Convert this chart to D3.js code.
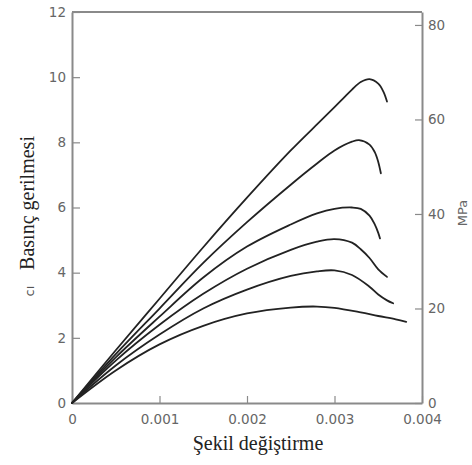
<!DOCTYPE html>
<html><head><meta charset="utf-8">
<script src="https://cdn.jsdelivr.net/npm/d3@7/dist/d3.min.js"></script>
<style>
html,body{margin:0;padding:0;background:#fff;}
svg{display:block;}
</style></head>
<body>
<svg id="c" width="472" height="465"></svg>
<script>
// ---- data ----
const xTicks = [0, 0.001, 0.002, 0.003, 0.004];
const xTickLabels = ["0", "0.001", "0.002", "0.003", "0.004"];
const yTicks = [0, 2, 4, 6, 8, 10, 12];
const yRightTicks = [0, 20, 40, 60, 80];
const ksiToMPa = 6.895;

const strain1 = [0, 0.0005, 0.001, 0.0015, 0.002, 0.0025, 0.0028, 0.003, 0.0031, 0.0032, 0.0033, 0.0034, 0.0035, 0.00356, 0.0036];
const stress1 = [0, 1.62, 3.2, 4.78, 6.3, 7.75, 8.55, 9.08, 9.35, 9.62, 9.85, 9.94, 9.8, 9.55, 9.25];
const strain2 = [0, 0.0005, 0.001, 0.0015, 0.002, 0.0025, 0.0028, 0.003, 0.0032, 0.00328, 0.0034, 0.00346, 0.0035, 0.00353];
const stress2 = [0, 1.5, 2.9, 4.3, 5.55, 6.7, 7.35, 7.75, 8.02, 8.07, 7.93, 7.7, 7.4, 7.05];
const strain3 = [0, 0.0005, 0.001, 0.0015, 0.002, 0.0025, 0.0028, 0.003, 0.0032, 0.0033, 0.0034, 0.00346, 0.0035, 0.00352];
const stress3 = [0, 1.4, 2.65, 3.85, 4.8, 5.48, 5.82, 5.96, 6.0, 5.96, 5.75, 5.48, 5.22, 5.05];
const strain4 = [0, 0.0005, 0.001, 0.0015, 0.002, 0.0025, 0.0028, 0.003, 0.0032, 0.0033, 0.0034, 0.0035, 0.0036];
const stress4 = [0, 1.3, 2.4, 3.35, 4.12, 4.7, 4.95, 5.03, 4.92, 4.72, 4.45, 4.1, 3.87];
const strain5 = [0, 0.0005, 0.001, 0.0015, 0.002, 0.0025, 0.0028, 0.003, 0.0032, 0.0034, 0.0035, 0.0036, 0.00367];
const stress5 = [0, 1.15, 2.1, 2.9, 3.48, 3.9, 4.04, 4.07, 3.93, 3.57, 3.33, 3.15, 3.06];
const strain6 = [0, 0.0005, 0.001, 0.0015, 0.002, 0.0025, 0.0028, 0.003, 0.0033, 0.0035, 0.0037, 0.00382];
const stress6 = [0, 1.0, 1.8, 2.37, 2.75, 2.93, 2.96, 2.92, 2.78, 2.67, 2.57, 2.49];

const series = [
  [strain1, stress1], [strain2, stress2], [strain3, stress3],
  [strain4, stress4], [strain5, stress5], [strain6, stress6]
];

// ---- layout ----
const svg = d3.select("#c");
const L = 72, R = 422, T = 12, B = 403;
const x = d3.scaleLinear().domain([0, 0.004]).range([L, R]);
const y = d3.scaleLinear().domain([0, 12]).range([B, T]);
const yR = d3.scaleLinear().domain([0, 12 * ksiToMPa]).range([B, T]);

const axisColor = "#8a8a8a";
const labelColor = "#666";

function styleAxis(g) {
  g.select(".domain").attr("stroke", axisColor).attr("stroke-width", 2);
  g.selectAll(".tick line").attr("stroke", axisColor).attr("stroke-width", 1.2);
  g.selectAll(".tick text").attr("fill", labelColor)
    .attr("font-family", "DejaVu Sans, sans-serif").attr("font-size", 13.5);
}

// left axis
svg.append("g").attr("transform", `translate(${L},0)`)
  .call(d3.axisLeft(y).tickValues(yTicks).tickSizeInner(-8).tickSizeOuter(0).tickPadding(6))
  .call(styleAxis);

// bottom axis
svg.append("g").attr("transform", `translate(0,${B})`)
  .call(d3.axisBottom(x).tickValues(xTicks).tickSizeInner(-7).tickSizeOuter(0).tickPadding(11)
    .tickFormat((d, i) => xTickLabels[i]))
  .call(styleAxis);

// right axis
svg.append("g").attr("transform", `translate(${R},0)`)
  .call(d3.axisRight(yR).tickValues(yRightTicks).tickSizeInner(-7).tickSizeOuter(0).tickPadding(6))
  .call(styleAxis);

// top border
svg.append("line").attr("x1", L).attr("x2", R).attr("y1", T).attr("y2", T)
  .attr("stroke", axisColor).attr("stroke-width", 2);

// curves
const line = d3.line().x(d => x(d[0])).y(d => y(d[1])).curve(d3.curveCatmullRom.alpha(0.5));
series.forEach(([xs, ys]) => {
  svg.append("path").datum(xs.map((v, i) => [v, ys[i]]))
    .attr("d", line).attr("fill", "none").attr("stroke", "#222")
    .attr("stroke-width", 1.8).attr("stroke-linecap", "round");
});

// axis titles
svg.append("text").attr("x", 258).attr("y", 450).attr("text-anchor", "middle")
  .attr("font-family", "Liberation Serif, Times New Roman, serif").attr("font-size", 20)
  .attr("fill", "#222").text("Şekil değiştirme");

svg.append("text").attr("transform", "translate(34,203) rotate(-90)").attr("text-anchor", "middle")
  .attr("font-family", "Liberation Serif, Times New Roman, serif").attr("font-size", 20)
  .attr("fill", "#222").text("Basınç gerilmesi");

svg.append("text").attr("transform", "translate(34,291) rotate(-90)").attr("text-anchor", "middle")
  .attr("font-family", "DejaVu Sans, sans-serif").attr("font-size", 13)
  .attr("fill", "#555").text("cı");

svg.append("text").attr("transform", "translate(467,213) rotate(-90)").attr("text-anchor", "middle")
  .attr("font-family", "DejaVu Sans, sans-serif").attr("font-size", 13)
  .attr("fill", labelColor).text("MPa");
</script>
</body></html>
